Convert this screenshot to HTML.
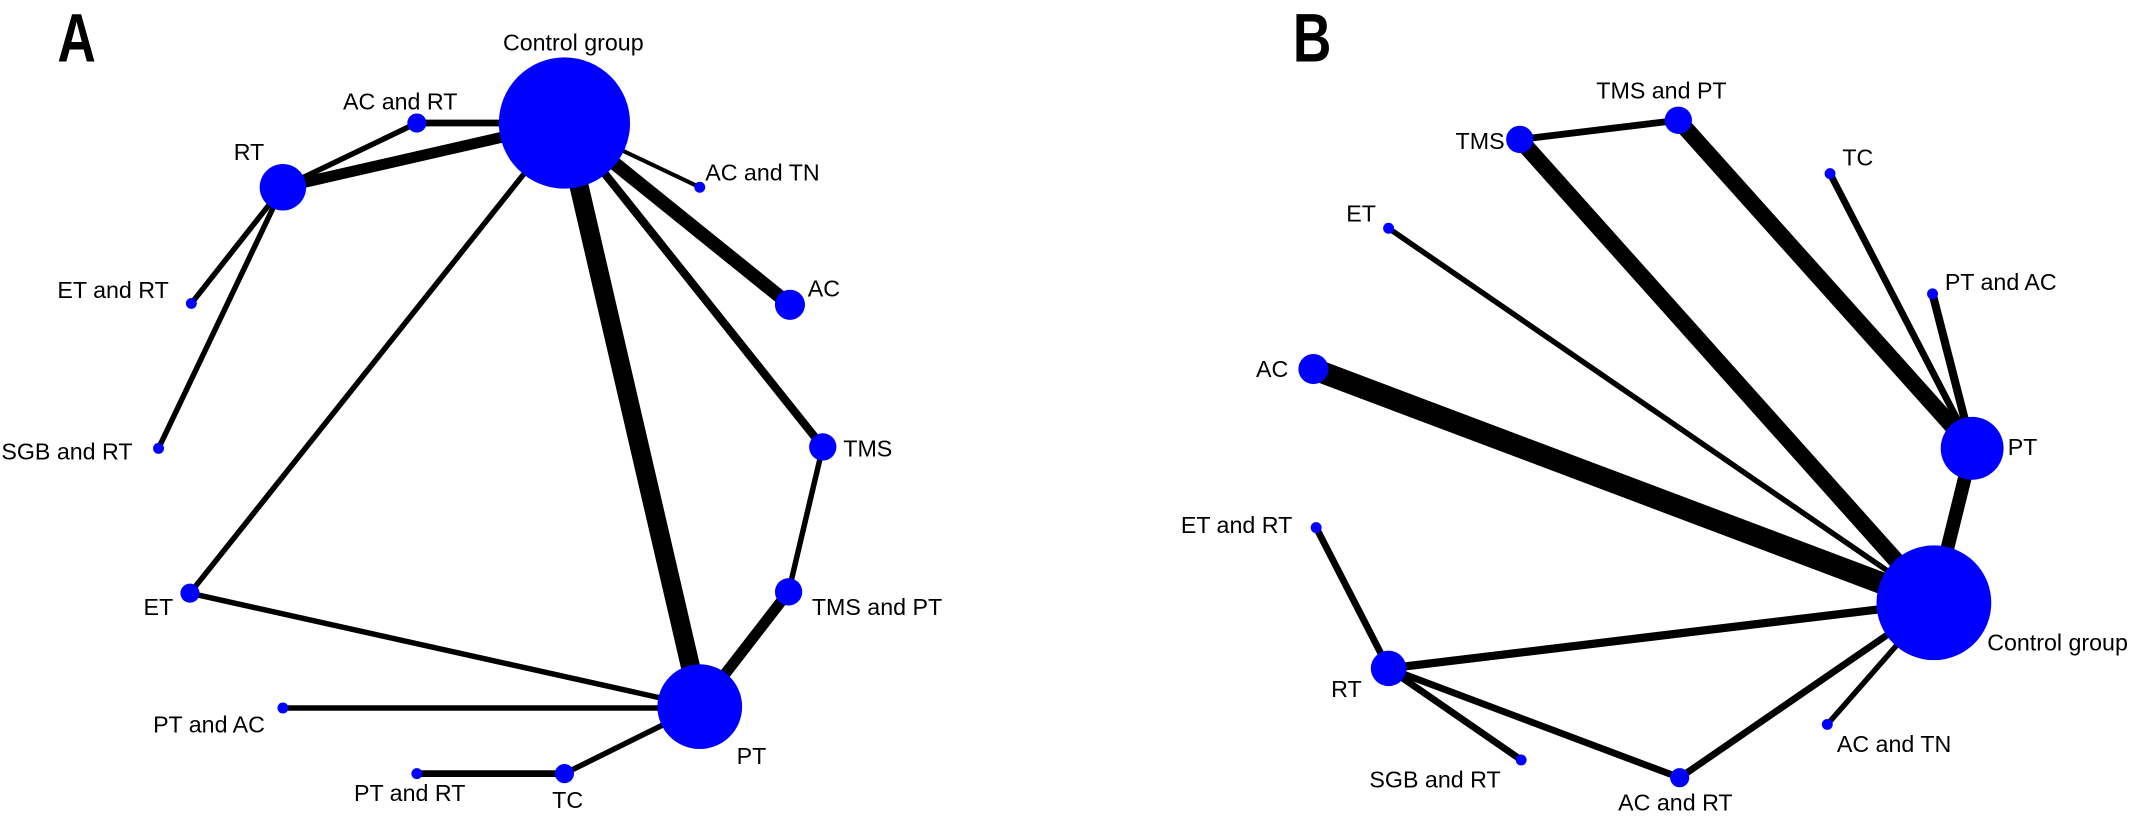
<!DOCTYPE html>
<html><head><meta charset="utf-8"><style>
html,body{margin:0;padding:0;background:#fff;width:2143px;height:816px;overflow:hidden}
svg{display:block}
text{font-family:"Liberation Sans",Arial,sans-serif;font-size:17px;fill:#000}
</style></head><body>
<svg width="2143" height="816" viewBox="0 0 1568 597" preserveAspectRatio="none" xmlns="http://www.w3.org/2000/svg">
<rect width="1568" height="597" fill="#fff"/>
<text x="42" y="45" style="font-size:50px;font-weight:bold" transform="scale(0.78,1)" transform-origin="42 45">A</text>
<text x="946" y="45" style="font-size:50px;font-weight:bold" transform="scale(0.78,1)" transform-origin="946 45">B</text>
<g stroke="#000" stroke-linecap="butt">
<line x1="413" y1="90" x2="305" y2="90" stroke-width="5"/>
<line x1="413" y1="90" x2="207" y2="137" stroke-width="8"/>
<line x1="207" y1="137" x2="305" y2="90" stroke-width="4"/>
<line x1="207" y1="137" x2="140" y2="222" stroke-width="4"/>
<line x1="207" y1="137" x2="116" y2="328" stroke-width="4"/>
<line x1="413" y1="90" x2="512" y2="137" stroke-width="3"/>
<line x1="413" y1="90" x2="578" y2="223" stroke-width="10"/>
<line x1="413" y1="90" x2="602" y2="327" stroke-width="6"/>
<line x1="413" y1="90" x2="139" y2="434" stroke-width="4"/>
<line x1="413" y1="90" x2="512" y2="517" stroke-width="14"/>
<line x1="602" y1="327" x2="577" y2="433" stroke-width="4"/>
<line x1="577" y1="433" x2="512" y2="517" stroke-width="8"/>
<line x1="139" y1="434" x2="512" y2="517" stroke-width="4"/>
<line x1="207" y1="518" x2="512" y2="518" stroke-width="4"/>
<line x1="305" y1="566" x2="413" y2="566" stroke-width="5"/>
<line x1="413" y1="566" x2="512" y2="517" stroke-width="4"/>
<line x1="1112" y1="102" x2="1228" y2="88" stroke-width="5"/>
<line x1="1112" y1="102" x2="1415" y2="441" stroke-width="12"/>
<line x1="1228" y1="88" x2="1443" y2="328" stroke-width="12"/>
<line x1="1339" y1="127" x2="1443" y2="328" stroke-width="5"/>
<line x1="1414" y1="215" x2="1443" y2="328" stroke-width="6"/>
<line x1="1016" y1="167" x2="1415" y2="441" stroke-width="4"/>
<line x1="961" y1="270" x2="1415" y2="441" stroke-width="16"/>
<line x1="1443" y1="328" x2="1415" y2="441" stroke-width="10"/>
<line x1="963" y1="386" x2="1016" y2="489" stroke-width="5"/>
<line x1="1016" y1="489" x2="1415" y2="441" stroke-width="6"/>
<line x1="1016" y1="489" x2="1113" y2="556" stroke-width="5"/>
<line x1="1016" y1="489" x2="1229" y2="569" stroke-width="5"/>
<line x1="1229" y1="569" x2="1415" y2="441" stroke-width="5"/>
<line x1="1337" y1="530" x2="1415" y2="441" stroke-width="4"/>
</g>
<g fill="#0000ff">
<circle cx="413" cy="90" r="48"/>
<circle cx="305" cy="90" r="7"/>
<circle cx="207" cy="137" r="17"/>
<circle cx="512" cy="137" r="4"/>
<circle cx="140" cy="222" r="4"/>
<circle cx="578" cy="223" r="11"/>
<circle cx="116" cy="328" r="4"/>
<circle cx="602" cy="327" r="10"/>
<circle cx="139" cy="434" r="7"/>
<circle cx="577" cy="433" r="10"/>
<circle cx="512" cy="517" r="31"/>
<circle cx="207" cy="518" r="4"/>
<circle cx="305" cy="566" r="4"/>
<circle cx="413" cy="566" r="7"/>
<circle cx="1112" cy="102" r="10"/>
<circle cx="1228" cy="88" r="10"/>
<circle cx="1339" cy="127" r="4"/>
<circle cx="1016" cy="167" r="4"/>
<circle cx="1414" cy="215" r="4"/>
<circle cx="961" cy="270" r="11"/>
<circle cx="1443" cy="328" r="23"/>
<circle cx="963" cy="386" r="4"/>
<circle cx="1415" cy="441" r="42"/>
<circle cx="1016" cy="489" r="13"/>
<circle cx="1113" cy="556" r="4"/>
<circle cx="1229" cy="569" r="7"/>
<circle cx="1337" cy="530" r="4"/>
</g>
<g>
<text x="368" y="37">Control group</text>
<text x="251" y="80">AC and RT</text>
<text x="171" y="117">RT</text>
<text x="516" y="132">AC and TN</text>
<text x="42" y="218">ET and RT</text>
<text x="591" y="217">AC</text>
<text x="1" y="336">SGB and RT</text>
<text x="617" y="334">TMS</text>
<text x="105" y="450">ET</text>
<text x="594" y="450">TMS and PT</text>
<text x="539" y="559">PT</text>
<text x="112" y="536">PT and AC</text>
<text x="259" y="586">PT and RT</text>
<text x="404" y="591">TC</text>
<text x="1065" y="109">TMS</text>
<text x="1168" y="72">TMS and PT</text>
<text x="1348" y="121">TC</text>
<text x="985" y="162">ET</text>
<text x="1423" y="212">PT and AC</text>
<text x="919" y="276">AC</text>
<text x="1469" y="333">PT</text>
<text x="864" y="390">ET and RT</text>
<text x="1454" y="476">Control group</text>
<text x="974" y="510">RT</text>
<text x="1002" y="576">SGB and RT</text>
<text x="1184" y="593">AC and RT</text>
<text x="1344" y="550">AC and TN</text>
</g>
</svg>
</body></html>
